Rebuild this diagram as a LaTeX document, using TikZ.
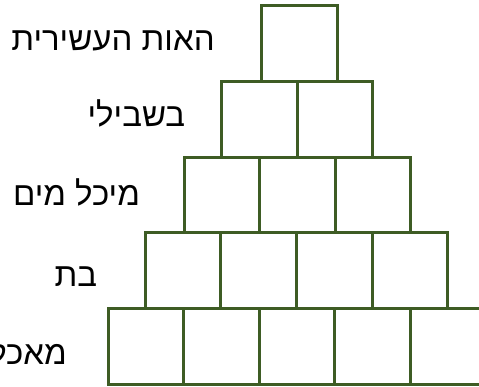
\documentclass[tikz,border=0pt]{standalone}
\usepackage{fontspec}
\newfontfamily\hebfont[Script=Hebrew]{Liberation Sans}
\TeXXeTstate=1
\definecolor{pyrgreen}{RGB}{62,92,36}

\begin{document}
\begin{tikzpicture}[x=1pt, y=1pt,
  cell/.style={rectangle, draw=pyrgreen, line width=3pt,
               minimum width=75.6pt, minimum height=75.6pt,
               inner sep=0pt, outer sep=0pt},
  lbl/.style={anchor=base east, inner sep=0pt, text=black,
              font=\hebfont\fontsize{33}{39}\selectfont}
]
  \useasboundingbox (0,0) rectangle (479,386);

  % pyramid of cells, row r has r cells
  \foreach \r/\cx in {1/299.7, 2/297, 3/297.5, 4/296.5, 5/297} {
    \foreach \c in {1,...,\r} {
      \node[cell] (c\r-\c) at ({\cx-\r*37.8+(\c-0.5)*75.6}, {380-(\r-0.5)*75.6}) {};
    }
  }

  % clues
  \node[lbl] (lbl1) at ([xshift=-47pt, yshift=-7pt]c1-1.west) {\beginR האות העשירית\endR};
  \node[lbl] (lbl2) at ([xshift=-36pt, yshift=-7pt]c2-1.west) {\beginR בשבילי\endR};
  \node[lbl] (lbl3) at ([xshift=-44pt, yshift=-11pt]c3-1.west) {\beginR מיכל מים\endR};
  \node[lbl] (lbl4) at ([xshift=-48pt, yshift=-16pt]c4-1.west) {\beginR בת\endR};
  \node[lbl] (lbl5) at ([xshift=-41pt, yshift=-18pt]c5-1.west) {\beginR מאכל\endR};
\end{tikzpicture}
\end{document}
